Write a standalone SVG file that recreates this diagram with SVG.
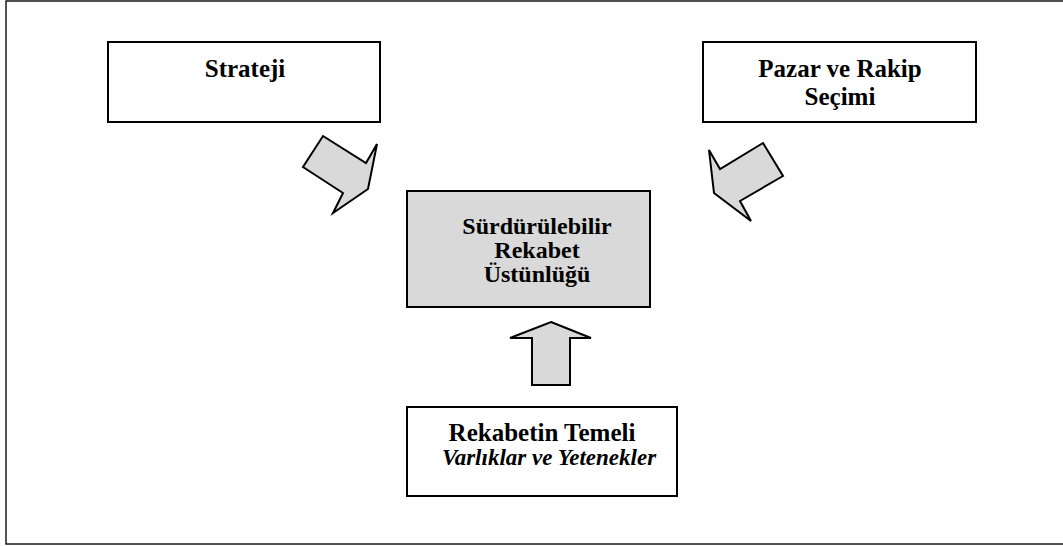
<svg xmlns="http://www.w3.org/2000/svg" width="1063" height="546" viewBox="0 0 1063 546">
  <style>
    .frame { fill: none; stroke: #1a1a1a; stroke-width: 1.5; }
    .box { fill: #ffffff; stroke: #000000; stroke-width: 2; }
    .box.core { fill: #d9d9d9; }
    .arrow { fill: #d9d9d9; stroke: #000000; stroke-width: 2; stroke-linejoin: miter; }
    .label { font-family: "Liberation Serif", "Times New Roman", serif; font-size: 25px; font-weight: bold; fill: #000000; text-anchor: middle; }
    .core-text { font-size: 24px; }
    .sub { font-style: italic; font-size: 23px; }
  </style>

  <!-- outer border -->
  <rect class="frame" x="6" y="1" width="1070" height="543"/>

  <g id="strateji">
    <rect class="box" x="108" y="42" width="272" height="80"/>
    <text class="label" x="245" y="77">Strateji</text>
  </g>

  <g id="pazar-rakip">
    <rect class="box" x="703" y="42" width="273" height="80"/>
    <text class="label" x="840" y="77">Pazar ve Rakip</text>
    <text class="label" x="840" y="105">Seçimi</text>
  </g>

  <g id="rekabet-ustunlugu">
    <rect class="box core" x="407" y="191" width="243" height="116"/>
    <text class="label core-text" x="537" y="234">Sürdürülebilir</text>
    <text class="label core-text" x="537" y="258">Rekabet</text>
    <text class="label core-text" x="537" y="282">Üstünlüğü</text>
  </g>

  <g id="rekabet-temeli">
    <rect class="box" x="407" y="407" width="270" height="89"/>
    <text class="label" x="542" y="441">Rekabetin Temeli</text>
    <text class="label sub" x="549" y="465">Varlıklar ve Yetenekler</text>
  </g>

  <g id="connectors">
    <!-- block arrow from Strateji -->
    <polygon class="arrow" points="323,136 366,163 377,144 368,189 333,213 343,193 303,167"/>
    <!-- block arrow from Pazar ve Rakip Seçimi -->
    <polygon class="arrow" points="763,143 783,176 740,201 751,221 714,193 709,150 720,169"/>
    <!-- block arrow from Rekabetin Temeli -->
    <polygon class="arrow" points="551,322 591,338 570,338 570,385 532,385 532,338 510,338"/>
  </g>
</svg>
